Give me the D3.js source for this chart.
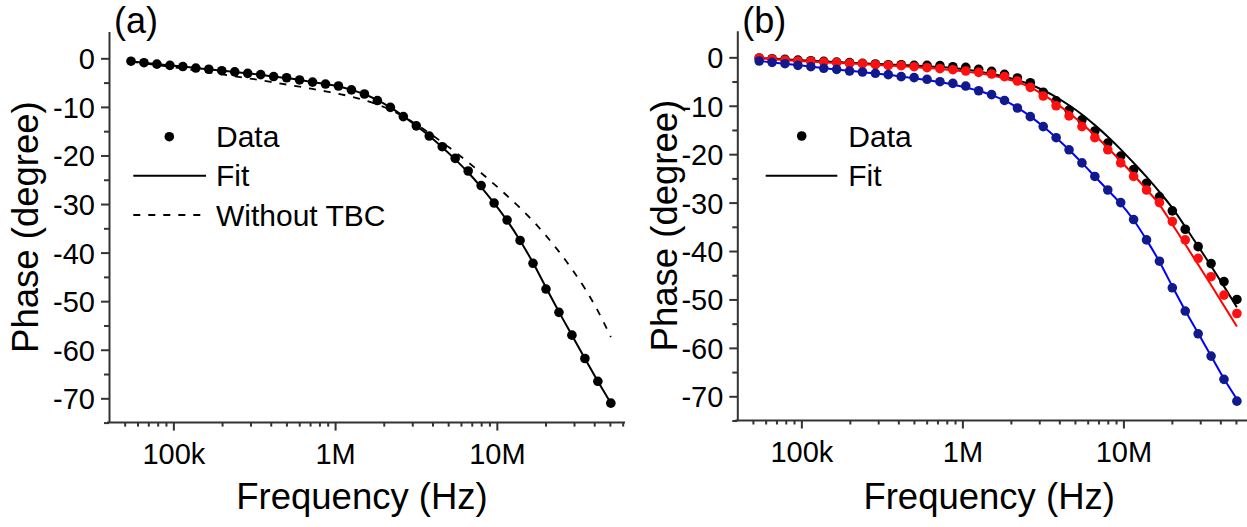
<!DOCTYPE html>
<html><head><meta charset="utf-8">
<script src="https://cdn.jsdelivr.net/npm/d3@7"></script>
<style>
html,body{margin:0;padding:0;background:#fff;}
svg{display:block;}
text{font-family:"Liberation Sans",Arial,sans-serif;fill:#000;}
</style></head>
<body>
<svg id="chart" width="1247" height="527"></svg>
<script>
// ---------------- data ----------------
const freqHz = [54.7e3, 65.8e3, 79.1e3, 95.2e3, 114.5e3, 137.7e3, 165.6e3, 199.2e3, 239.6e3, 288.2e3,
  346.6e3, 416.9e3, 501.4e3, 603.1e3, 725.4e3, 872.5e3, 1.049e6, 1.262e6, 1.518e6, 1.826e6,
  2.196e6, 2.641e6, 3.177e6, 3.821e6, 4.596e6, 5.528e6, 6.649e6, 7.997e6, 9.619e6, 11.57e6,
  13.92e6, 16.74e6, 20.13e6, 24.21e6, 29.12e6, 35.03e6, 42.13e6, 50.68e6];

// panel (a)
const aData = [-0.6, -0.9, -1.2, -1.45, -1.7, -2.0, -2.25, -2.55, -2.8, -3.1,
  -3.35, -3.75, -4.0, -4.45, -4.9, -5.3, -5.7, -6.5, -7.35, -8.7,
  -10.1, -12.0, -13.9, -16.0, -18.2, -20.6, -23.2, -26.2, -29.8, -33.3,
  -37.5, -42.2, -47.5, -52.3, -57.0, -61.8, -66.5, -71.0];
const aFit = [-0.6, -0.9, -1.2, -1.45, -1.7, -2.0, -2.25, -2.55, -2.8, -3.1,
  -3.4, -3.75, -4.05, -4.45, -4.9, -5.3, -5.8, -6.5, -7.4, -8.6,
  -10.1, -11.9, -13.9, -16.0, -18.3, -20.8, -23.5, -26.5, -29.8, -33.4,
  -37.5, -42.1, -47.2, -52.2, -57.0, -61.8, -66.5, -71.0];
const aNoTBC = [-0.7, -1.05, -1.4, -1.75, -2.1, -2.5, -2.9, -3.3, -3.7, -4.1,
  -4.5, -4.95, -5.4, -5.85, -6.3, -6.8, -7.3, -7.9, -8.6, -9.5,
  -10.6, -12.0, -13.6, -15.4, -17.3, -19.3, -21.4, -23.6, -25.9, -28.3,
  -30.8, -33.5, -36.5, -39.8, -43.4, -47.4, -52.0, -57.4];

// panel (b)
const bBlack = [-0.14, -0.28, -0.42, -0.56, -0.7, -0.83, -0.97, -1.1, -1.25, -1.38,
  -1.52, -1.52, -1.66, -1.66, -1.7, -1.93, -2.07, -2.48, -2.9, -3.52,
  -4.27, -5.24, -7.2, -9.0, -10.9, -12.9, -15.2, -17.7, -20.4, -23.2,
  -26.0, -28.8, -31.7, -35.5, -39.1, -42.6, -46.3, -50.0];
const bRed = [-0.14, -0.35, -0.56, -0.76, -0.83, -0.97, -1.1, -1.25, -1.31, -1.52,
  -1.66, -1.72, -1.93, -2.14, -2.34, -2.55, -2.82, -3.1, -3.44, -3.99,
  -4.89, -6.2, -8.0, -10.0, -12.1, -14.3, -16.6, -19.1, -21.8, -24.6,
  -27.4, -30.0, -33.9, -37.7, -41.5, -45.3, -49.1, -52.9];
const bBlue = [-0.76, -1.04, -1.31, -1.66, -1.93, -2.27, -2.48, -2.82, -3.03, -3.3,
  -3.58, -3.99, -4.2, -4.54, -5.03, -5.38, -5.93, -6.9, -7.7, -8.9,
  -10.46, -12.25, -14.3, -16.6, -19.1, -21.8, -24.6, -27.4, -30.0, -33.5,
  -37.7, -42.1, -47.6, -52.4, -57.1, -61.7, -66.5, -71.0];
const bBlackFit = [-0.14, -0.28, -0.42, -0.56, -0.7, -0.83, -0.97, -1.1, -1.22, -1.35,
  -1.47, -1.58, -1.7, -1.82, -1.98, -2.2, -2.5, -2.9, -3.4, -4.0,
  -4.7, -5.6, -6.8, -8.2, -9.9, -11.8, -14.0, -16.4, -19.0, -21.8,
  -24.7, -27.8, -31.1, -35.0, -39.0, -43.1, -47.3, -51.6];
const bRedFit = [-0.14, -0.35, -0.56, -0.74, -0.88, -1.02, -1.15, -1.28, -1.4, -1.55,
  -1.7, -1.85, -2.0, -2.2, -2.4, -2.65, -2.95, -3.3, -3.75, -4.35,
  -5.1, -6.2, -7.7, -9.5, -11.5, -13.7, -16.1, -18.7, -21.4, -24.3,
  -27.3, -30.4, -34.5, -38.6, -42.8, -47.0, -51.3, -55.6];
const bBlueFit = [-0.76, -1.04, -1.31, -1.62, -1.93, -2.22, -2.5, -2.78, -3.05, -3.32,
  -3.62, -3.95, -4.3, -4.7, -5.1, -5.6, -6.2, -6.9, -7.8, -8.9,
  -10.4, -12.2, -14.3, -16.6, -19.1, -21.8, -24.6, -27.4, -30.2, -33.6,
  -37.7, -42.2, -47.3, -52.3, -57.0, -61.7, -66.4, -70.6];

const yMajor = [0, -10, -20, -30, -40, -50, -60, -70];
const yMinor = [-5, -15, -25, -35, -45, -55, -65, -75];
const xMajor = [1e5, 1e6, 1e7];
const xMajorLabels = ["100k", "1M", "10M"];
const xMinor = [5e4, 6e4, 7e4, 8e4, 9e4, 2e5, 3e5, 4e5, 5e5, 6e5, 7e5, 8e5, 9e5,
  2e6, 3e6, 4e6, 5e6, 6e6, 7e6, 8e6, 9e6, 2e7, 3e7, 4e7, 5e7, 6e7];

const xDomain = [40e3, 62e6];
const yDomain = [-75, 5.5];

// ---------------- drawing ----------------
const svg = d3.select("#chart");
const AX = "#333";

function panel(opts) {
  const x = d3.scaleLog().domain(xDomain).range([opts.left, opts.right]);
  const y = d3.scaleLinear().domain(yDomain).range([opts.bottom, opts.top]);
  const g = svg.append("g");

  const yAx = g.append("g").attr("transform", `translate(${opts.left},0)`)
    .call(d3.axisLeft(y).tickValues(yMajor).tickSize(8).tickSizeOuter(0).tickPadding(6).tickFormat(d => d === 0 ? "0" : "-" + Math.abs(d)));
  yAx.select(".domain").attr("stroke", AX).attr("stroke-width", 2);
  yAx.selectAll(".tick line").attr("stroke", AX).attr("stroke-width", 2);
  yAx.selectAll(".tick text").attr("font-size", 29).attr("font-family", "Liberation Sans, Arial, sans-serif").attr("fill", "#000").attr("dy", "0.36em");
  const yMin = g.append("g").attr("transform", `translate(${opts.left},0)`)
    .call(d3.axisLeft(y).tickValues(yMinor).tickSize(5).tickSizeOuter(0).tickFormat(""));
  yMin.select(".domain").remove();
  yMin.selectAll(".tick line").attr("stroke", AX).attr("stroke-width", 2);

  const xAx = g.append("g").attr("transform", `translate(0,${opts.bottom})`)
    .call(d3.axisBottom(x).tickValues(xMajor).tickSize(8).tickSizeOuter(0).tickPadding(6).tickFormat((d, i) => xMajorLabels[i]));
  xAx.select(".domain").attr("stroke", AX).attr("stroke-width", 2).attr("d", `M${opts.left - 2},0H${opts.right}`);
  xAx.selectAll(".tick line").attr("stroke", AX).attr("stroke-width", 2);
  xAx.selectAll(".tick text").attr("font-size", 29).attr("font-family", "Liberation Sans, Arial, sans-serif").attr("fill", "#000").attr("dy", "0.95em");
  const xMin = g.append("g").attr("transform", `translate(0,${opts.bottom})`)
    .call(d3.axisBottom(x).tickValues(xMinor).tickSize(4).tickSizeOuter(0).tickFormat(""));
  xMin.select(".domain").remove();
  xMin.selectAll(".tick line").attr("stroke", AX).attr("stroke-width", 2);

  g.append("text").attr("x", (opts.left + opts.right) / 2 - 5).attr("y", 509)
    .attr("text-anchor", "middle").attr("font-size", 36.5).text("Frequency (Hz)");
  g.append("text").attr("transform", `translate(${opts.left - opts.titleOff},${(opts.top + opts.bottom) / 2}) rotate(-90)`)
    .attr("text-anchor", "middle").attr("font-size", 36.5).text("Phase (degree)");
  g.append("text").attr("x", opts.left + 5).attr("y", 33).attr("font-size", 36).text(opts.label);

  const line = d3.line().x(d => x(d[0])).y(d => y(d[1])).curve(d3.curveMonotoneX);
  return {g, x, y, line};
}

function series(p, vals, color, dash, width) {
  p.g.append("path").datum(freqHz.map((f, i) => [f, vals[i]]))
    .attr("d", p.line).attr("fill", "none").attr("stroke", color)
    .attr("stroke-width", width || 2).attr("stroke-dasharray", dash || null);
}
function dots(p, vals, color) {
  p.g.append("g").selectAll("circle").data(freqHz.map((f, i) => [f, vals[i]])).join("circle")
    .attr("cx", d => p.x(d[0])).attr("cy", d => p.y(d[1])).attr("r", 4.8).attr("fill", color);
}

// panel (a)
const pa = panel({left: 109, right: 625, top: 31.6, bottom: 422.6, label: "(a)", titleOff: 71});
series(pa, aNoTBC, "#000", "7,8", 1.8);
series(pa, aFit, "#000", null, 2);
dots(pa, aData, "#000");
pa.g.append("circle").attr("cx", 169.3).attr("cy", 136.7).attr("r", 4.8).attr("fill", "#000");
pa.g.append("text").attr("x", 216).attr("y", 146.7).attr("font-size", 30).text("Data");
pa.g.append("line").attr("x1", 133.3).attr("x2", 206).attr("y1", 175.7).attr("y2", 175.7).attr("stroke", "#000").attr("stroke-width", 2);
pa.g.append("text").attr("x", 216).attr("y", 186.3).attr("font-size", 30).text("Fit");
pa.g.append("line").attr("x1", 133.3).attr("x2", 206).attr("y1", 215).attr("y2", 215).attr("stroke", "#000").attr("stroke-width", 1.8).attr("stroke-dasharray", "7,8");
pa.g.append("text").attr("x", 216).attr("y", 226).attr("font-size", 30).text("Without TBC");

// panel (b)
const pb = panel({left: 737.3, right: 1251, top: 30.7, bottom: 420.5, label: "(b)", titleOff: 60});
series(pb, bBlackFit, "#000");
dots(pb, bBlack, "#000");
series(pb, bRedFit, "#ff0000");
dots(pb, bRed, "#ff1010");
series(pb, bBlueFit, "#0000ff");
dots(pb, bBlue, "#101a8c");
pb.g.append("circle").attr("cx", 801.7).attr("cy", 136).attr("r", 4.8).attr("fill", "#000");
pb.g.append("text").attr("x", 848.3).attr("y", 146.7).attr("font-size", 30).text("Data");
pb.g.append("line").attr("x1", 765.7).attr("x2", 837.3).attr("y1", 175.7).attr("y2", 175.7).attr("stroke", "#000").attr("stroke-width", 2);
pb.g.append("text").attr("x", 848.3).attr("y", 186.3).attr("font-size", 30).text("Fit");
</script>
</body></html>
